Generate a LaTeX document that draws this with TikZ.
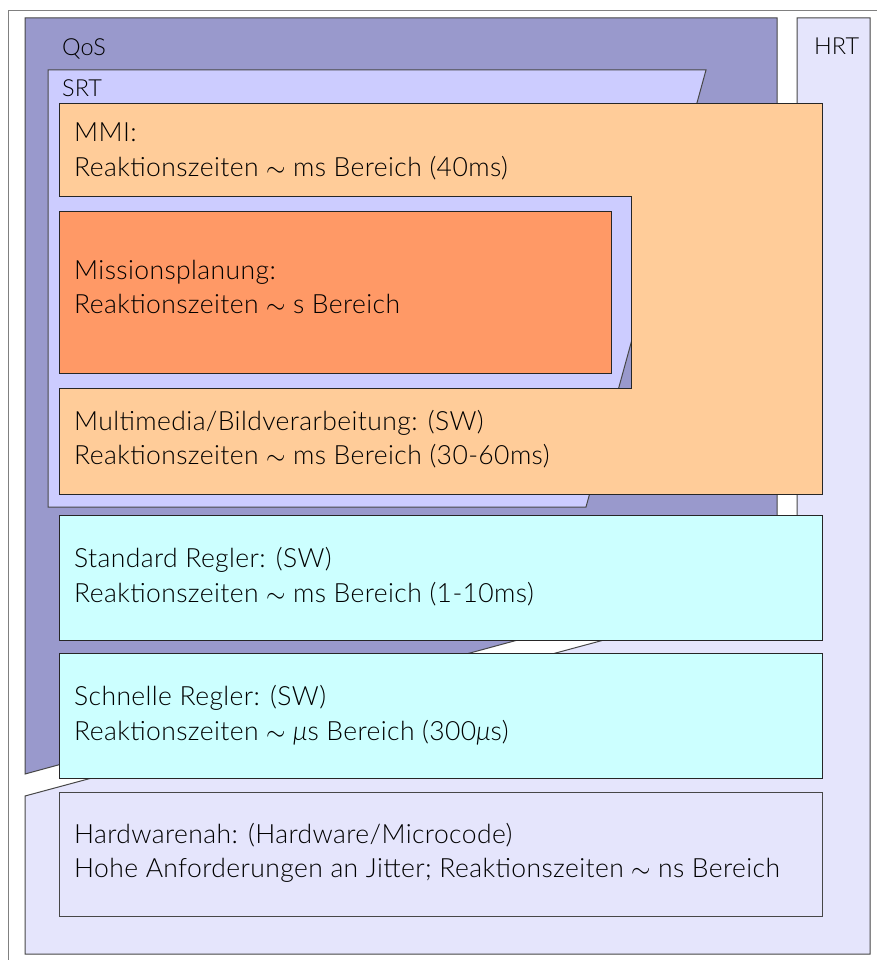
\documentclass[tikz,border=0pt]{standalone}
\usepackage{fontspec}
\setmainfont{Lato}[UprightFont=* Light, ItalicFont=* Light Italic]
\definecolor{qosfill}{HTML}{9999CC}
\definecolor{srtfill}{HTML}{CCCCFF}
\definecolor{hrtfill}{HTML}{E5E5FC}
\definecolor{mmifill}{HTML}{FFCC99}
\definecolor{missfill}{HTML}{FF9966}
\definecolor{ctrlfill}{HTML}{CCFFFF}
\definecolor{edge}{HTML}{262626}
\tikzset{
  region/.style={draw=edge!85!white, line width=1pt},
  taskbox/.style={draw=edge, line width=1pt},
  boxtext/.style={anchor=base west, inner sep=0pt, font=\fontsize{26.5}{31}\selectfont\addfontfeature{LetterSpace=1.5}},
  areatext/.style={anchor=base west, inner sep=0pt, font=\fontsize{23.5}{28}\selectfont},
}
\begin{document}
\begin{tikzpicture}[x=1pt,y=-1pt]
\useasboundingbox (0,0) rectangle (877,960);
\fill[white] (0,0) rectangle (877,960);
% page frame (only its top and left sides fall inside)
\draw[gray, line width=1pt] (8.5,990) -- (8.5,10.5) -- (900,10.5);

% real-time classes
\draw[region, fill=hrtfill] (797,18) -- (870,18) -- (870,954) -- (25,954) -- (25,796) -- (797,588) -- cycle;
\draw[region, fill=qosfill] (25,18) -- (777,18) -- (777,569.5) -- (25,774) -- cycle;
\draw[region, fill=srtfill] (48,70) -- (706,70) -- (586,507) -- (48,507) -- cycle;

\node[areatext] (qos) at (62,56) {QoS};
\node[areatext] (srt) at (62,97) {SRT};
\node[areatext] (hrt) at (814,55) {HRT};

% MMI block with the cut-out for mission planning
\draw[taskbox, fill=mmifill] (59,104) -- (822,104) -- (822,494) -- (59,494) -- (59,388)
  -- (631,388) -- (631,196) -- (59,196) -- cycle;
\draw[taskbox, fill=missfill] (59,211) rectangle (611,373);

% controllers and hardware
\draw[taskbox, fill=ctrlfill] (59,515) rectangle (822,640);
\draw[taskbox, fill=ctrlfill] (59,653) rectangle (822,778);
\draw[region, fill=hrtfill] (59,792) rectangle (822,916);

\node[boxtext] (mmiA) at (74,142) {MMI:};
\node[boxtext] (mmiB) at (74,176) {Reaktionszeiten $\sim$ ms Bereich (40ms)};
\node[boxtext] (missA) at (74,279) {Missionsplanung:};
\node[boxtext] (missB) at (74,313) {Reaktionszeiten $\sim$ s Bereich};
\node[boxtext] (mediaA) at (74,430) {Multimedia/Bildverarbeitung: (SW)};
\node[boxtext] (mediaB) at (74,464) {Reaktionszeiten $\sim$ ms Bereich (30-60ms)};
\node[boxtext] (stdA) at (74,567) {Standard Regler: (SW)};
\node[boxtext] (stdB) at (74,602) {Reaktionszeiten $\sim$ ms Bereich (1-10ms)};
\node[boxtext] (fastA) at (74,705) {Schnelle Regler: (SW)};
\node[boxtext] (fastB) at (74,740) {Reaktionszeiten $\sim$ {\itshape μ}s Bereich (300{\itshape μ}s)};
\node[boxtext] (hwA) at (74,843) {Hardwarenah: (Hardware/Microcode)};
\node[boxtext] (hwB) at (74,877) {Hohe Anforderungen an Jitter; Reaktionszeiten $\sim$ ns Bereich};
\end{tikzpicture}
\end{document}
